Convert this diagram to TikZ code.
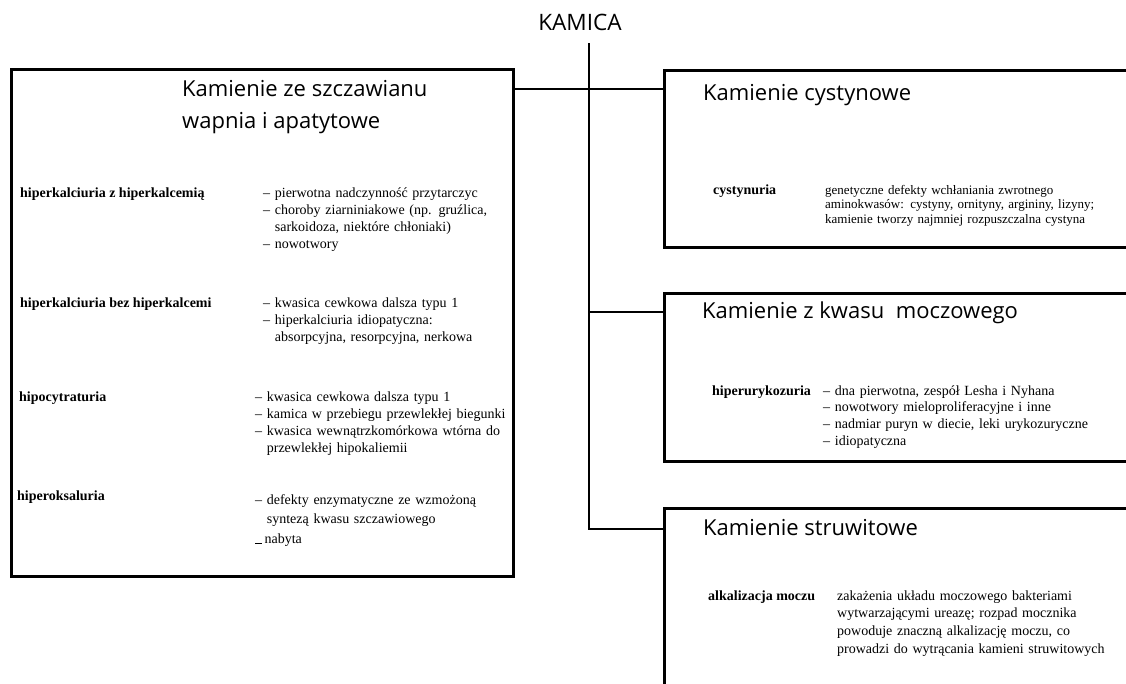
\documentclass[tikz,border=0pt]{standalone}
\usepackage{fontspec}
\setmainfont{Liberation Serif}
\newfontfamily\headfont{Open Sans}
\newcommand{\hang}{\phantom{– }}
\begin{document}
\begin{tikzpicture}[x=1pt,y=-1pt,
  box/.style={draw,line width=3pt,rectangle,anchor=north west,inner sep=0pt},
  link/.style={line width=2.5pt},
  head/.style={anchor=base west,inner sep=0pt,font=\headfont\fontsize{22}{27}\selectfont},
  cause/.style={anchor=base west,inner sep=0pt,font=\bfseries\fontsize{14}{17}\selectfont},
  items/.style={anchor=base west,inner sep=0pt,text width=300pt,align=left,font=\fontsize{14}{17.3}\selectfont}]
  \useasboundingbox (0,0) rectangle (1126,683);
  \clip (0,0) rectangle (1126,683);
  % the four groups
  \node[box,minimum width=502pt,minimum height=507pt] (oxal) at (10,68) {};
  \node[box,minimum width=520pt,minimum height=177pt] (cyst) at (663,69) {};
  \node[box,minimum width=520pt,minimum height=168pt] (uric) at (663,292) {};
  \node[box,minimum width=520pt,minimum height=250pt] (stru) at (663,507) {};
  % tree
  \node[head,anchor=base,font=\headfont\fontsize{22.6}{27}\selectfont] (root) at (580,30) {KAMICA};
  \coordinate (top) at (589,43);
  \coordinate (j1) at (589,89);
  \coordinate (j2) at (589,312);
  \coordinate (j3) at (589,529);
  \draw[link] (top) -- (j3) -- (stru.west |- j3);
  \draw[link] (oxal.east |- j1) -- (cyst.west |- j1);
  \draw[link] (j2) -- (uric.west |- j2);
  % szczawian / apatyt
  \node[head] (oxalT) at (182,96) {Kamienie ze szczawianu};
  \node[head] (oxalT2) at (182,128) {wapnia i apatytowe};
  \node[cause] (c1) at (20,197) {hiperkalciuria z hiperkalcemią};
  \node[items] (i1) at (263,197) {– pierwotna nadczynność przytarczyc\\
    – choroby ziarniniakowe (np. gruźlica,\\ \hang sarkoidoza, niektóre chłoniaki)\\
    – nowotwory};
  \node[cause] (c2) at (20,307) {hiperkalciuria bez hiperkalcemi};
  \node[items] (i2) at (263,307) {– kwasica cewkowa dalsza typu 1\\
    – hiperkalciuria idiopatyczna:\\ \hang absorpcyjna, resorpcyjna, nerkowa};
  \node[cause] (c3) at (19,401) {hipocytraturia};
  \node[items] (i3) at (255,401) {– kwasica cewkowa dalsza typu 1\\
    – kamica w przebiegu przewlekłej biegunki\\
    – kwasica wewnątrzkomórkowa wtórna do\\ \hang przewlekłej hipokaliemii};
  \node[cause] (c4) at (17,500) {hiperoksaluria};
  \node[items,font=\fontsize{14}{19.5}\selectfont] (i4) at (255,504) {– defekty enzymatyczne ze wzmożoną\\
    \hang syntezą kwasu szczawiowego\\
    \raisebox{-1pt}{\rule{7pt}{1pt}}\,nabyta};
  % cystyna
  \node[head] (cystT) at (703,100) {Kamienie cystynowe};
  \node[cause] (c5) at (713,194) {cystynuria};
  \node[items,font=\fontsize{13}{14.6}\selectfont] (i5) at (825,194) {genetyczne defekty wchłaniania zwrotnego\\
    aminokwasów: cystyny, ornityny, argininy, lizyny;\\
    kamienie tworzy najmniej rozpuszczalna cystyna};
  % kwas moczowy
  \node[head] (uricT) at (702,318) {Kamienie z kwasu\ \ moczowego};
  \node[cause] (c6) at (712,395) {hiperurykozuria};
  \node[items,font=\fontsize{14}{16.7}\selectfont] (i6) at (823,395) {– dna pierwotna, zespół Lesha i Nyhana\\
    – nowotwory mieloproliferacyjne i inne\\
    – nadmiar puryn w diecie, leki urykozuryczne\\
    – idiopatyczna};
  % struwit
  \node[head] (struT) at (703,535) {Kamienie struwitowe};
  \node[cause] (c7) at (708,600) {alkalizacja moczu};
  \node[items,font=\fontsize{14}{17.7}\selectfont] (i7) at (837,600) {zakażenia układu moczowego bakteriami\\
    wytwarzającymi ureazę; rozpad mocznika\\
    powoduje znaczną alkalizację moczu, co\\
    prowadzi do wytrącania kamieni struwitowych};
\end{tikzpicture}
\end{document}
